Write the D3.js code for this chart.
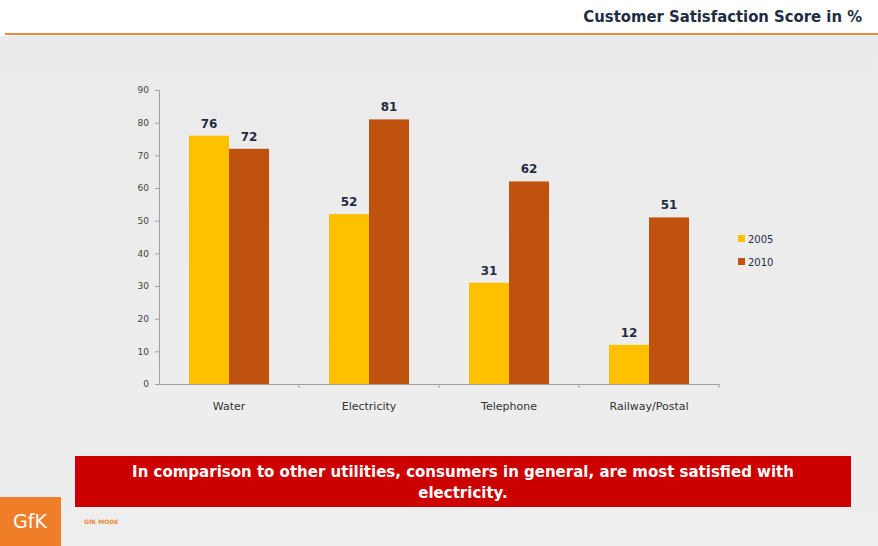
<!DOCTYPE html>
<html>
<head>
<meta charset="utf-8">
<script src="https://cdn.jsdelivr.net/npm/d3@7"></script>
<style>
  html, body { margin: 0; padding: 0; background: #fff; }
  svg { display: block; }
</style>
</head>
<body>
<svg id="chart" width="878" height="546"></svg>
<script>
// Customer satisfaction by utility, two survey years
const categories = ["Water", "Electricity", "Telephone", "Railway/Postal"];
const years = ["2005", "2010"];
const values2005 = [76, 52, 31, 12];
const values2010 = [72, 81, 62, 51];
const yTicks = [0, 10, 20, 30, 40, 50, 60, 70, 80, 90];
const colors = ["#ffc000", "#bf520f"];

const W = 878, H = 546;
const svg = d3.select("#chart");

// page background: white header strip, orange rule, grey panel
const defs = svg.append("defs");
const grad = defs.append("linearGradient").attr("id", "panel").attr("x1", 0).attr("y1", 0).attr("x2", 0).attr("y2", 1);
grad.append("stop").attr("offset", "0").attr("stop-color", "#ebebeb");
grad.append("stop").attr("offset", "1").attr("stop-color", "#eeeeee");
svg.append("rect").attr("x", 0).attr("y", 0).attr("width", W).attr("height", H).attr("fill", "#fff");
svg.append("rect").attr("x", 0).attr("y", 36).attr("width", W).attr("height", H - 36).attr("fill", "url(#panel)");
svg.append("line").attr("x1", 5).attr("x2", W).attr("y1", 34).attr("y2", 34)
  .attr("stroke", "#f58a3c").attr("stroke-width", 2);

svg.append("text")
  .attr("x", 862).attr("y", 22)
  .attr("text-anchor", "end")
  .attr("font-family", "'DejaVu Sans Condensed', 'DejaVu Sans', sans-serif")
  .attr("font-weight", "bold").attr("font-size", 16.5)
  .attr("fill", "#1f2d44")
  .text("Customer Satisfaction Score in %");

// chart area
const x0 = 159, x1 = 719, yBase = 384, yTop = 90;
const x = d3.scaleBand().domain(categories).range([x0, x1]).paddingInner(0).paddingOuter(0);
const xs = d3.scaleBand().domain(years).range([0, x.bandwidth()]).paddingOuter(0.75).paddingInner(0);
const y = d3.scaleLinear().domain([0, 90]).range([yBase, yTop]);

const series = years.map((yr, i) => ({ year: yr, values: i === 0 ? values2005 : values2010 }));

// y axis
const yAxis = svg.append("g").attr("transform", `translate(${x0},0)`)
  .call(d3.axisLeft(y).tickValues(yTicks).tickSize(4).tickPadding(6));
yAxis.select(".domain").attr("stroke", "#a0a0a0");
yAxis.selectAll(".tick line").attr("stroke", "#a0a0a0");
yAxis.selectAll(".tick text")
  .attr("font-family", "'DejaVu Sans', Verdana, sans-serif")
  .attr("font-size", 9).attr("fill", "#444");

// bars
series.forEach((s, si) => {
  svg.append("g").selectAll("rect")
    .data(categories)
    .join("rect")
    .attr("x", (c) => x(c) + xs(s.year))
    .attr("width", xs.bandwidth())
    .attr("y", (c, i) => y(s.values[i]))
    .attr("height", (c, i) => yBase - y(s.values[i]))
    .attr("fill", colors[si]);
  svg.append("g").selectAll("text")
    .data(categories)
    .join("text")
    .attr("x", (c) => x(c) + xs(s.year) + xs.bandwidth() / 2)
    .attr("y", (c, i) => y(s.values[i]) - 8)
    .attr("text-anchor", "middle")
    .attr("font-family", "'DejaVu Sans', Verdana, sans-serif")
    .attr("font-weight", "bold").attr("font-size", 12)
    .attr("fill", "#1f2d44")
    .text((c, i) => s.values[i]);
});

// x axis
const xAxis = svg.append("g").attr("transform", `translate(0,${yBase})`)
  .call(d3.axisBottom(x).tickSize(0).tickPadding(18));
xAxis.select(".domain").attr("stroke", "#a0a0a0");
xAxis.selectAll(".tick text")
  .attr("font-family", "'DejaVu Sans', Verdana, sans-serif")
  .attr("font-size", 11).attr("fill", "#333");
// band boundary marks
svg.append("g").selectAll("line")
  .data(categories.slice(1).map((c) => x(c)).concat([x1]))
  .join("line")
  .attr("x1", (d) => d).attr("x2", (d) => d)
  .attr("y1", yBase).attr("y2", yBase + 4)
  .attr("stroke", "#a0a0a0");

// legend
const legend = svg.append("g").attr("transform", "translate(738,240)");
years.forEach((yr, i) => {
  const g = legend.append("g").attr("transform", `translate(0,${i * 23})`);
  g.append("rect").attr("x", 0).attr("y", -5).attr("width", 7).attr("height", 7).attr("fill", colors[i]);
  g.append("text").attr("x", 10).attr("y", 3)
    .attr("font-family", "'DejaVu Sans', Verdana, sans-serif")
    .attr("font-size", 10).attr("fill", "#1f2d44")
    .text(yr);
});

// conclusion banner
svg.append("rect").attr("x", 75).attr("y", 456).attr("width", 776).attr("height", 51).attr("fill", "#cc0000");
const banner = svg.append("text")
  .attr("text-anchor", "middle")
  .attr("font-family", "'DejaVu Sans', Verdana, sans-serif")
  .attr("font-weight", "bold").attr("font-size", 15)
  .attr("fill", "#fff");
banner.append("tspan").attr("x", 463).attr("y", 477)
  .text("In comparison to other utilities, consumers in general, are most satisfied with");
banner.append("tspan").attr("x", 463).attr("y", 498).text("electricity.");

// brand mark
svg.append("rect").attr("x", 0).attr("y", 497).attr("width", 61).attr("height", 49).attr("fill", "#f07d28");
svg.append("text").attr("x", 30).attr("y", 528).attr("text-anchor", "middle")
  .attr("font-family", "'DejaVu Sans', sans-serif").attr("font-size", 19).attr("fill", "#fff")
  .text("GfK");
svg.append("text").attr("x", 84).attr("y", 524)
  .attr("font-family", "'DejaVu Sans', sans-serif").attr("font-weight", "bold").attr("font-size", 6)
  .attr("fill", "#e88a3a")
  .text("GfK MODE");
</script>
</body>
</html>
